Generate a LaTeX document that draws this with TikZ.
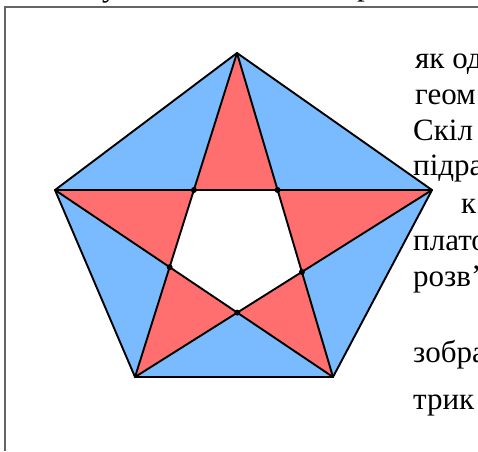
\documentclass[tikz,border=0pt]{standalone}
\usepackage{fontspec}
\setmainfont{Liberation Serif}
\definecolor{pblue}{RGB}{122,187,255}
\definecolor{pred}{RGB}{255,111,111}
\definecolor{framegray}{RGB}{100,100,100}
\begin{document}
\begin{tikzpicture}[x=1pt,y=-1pt,
  edge/.style={line width=1.9pt, line join=round, line cap=round},
  dot/.style={fill=black},
  txt/.style={anchor=base west, inner sep=0pt, font=\fontsize{31}{36}\selectfont},
  frameline/.style={draw=framegray, line width=1.4pt}]
\clip (0,0) rectangle (478,451);
\fill[white] (0,0) rectangle (478,451);
% frame
\coordinate (F1) at (5,451);
\coordinate (F2) at (5,7);
\coordinate (F3) at (478,7);
\draw[frameline] (F1) -- (F2) -- (F3);
% text cut off above the frame
\node[txt] (u) at (102,-4) {у};
\node[txt] (r) at (357,-5) {р};
% pentagon vertices
\coordinate (T) at (237,53);
\coordinate (L) at (55,190);
\coordinate (R) at (432,190);
\coordinate (BL) at (135,377);
\coordinate (BR) at (333,377);
% inner points
\coordinate (P1) at (intersection of T--BL and L--R);
\coordinate (P2) at (intersection of T--BR and L--R);
\coordinate (P3) at (intersection of T--BL and L--BR);
\coordinate (P4) at (intersection of T--BR and R--BL);
\coordinate (P5) at (intersection of L--BR and R--BL);
% fills
\fill[pblue] (T)--(R)--(BR)--(BL)--(L)--cycle;
\fill[pred] (T)--(P1)--(P2)--cycle;
\fill[pred] (L)--(P1)--(P3)--cycle;
\fill[pred] (R)--(P2)--(P4)--cycle;
\fill[pred] (BL)--(P3)--(P5)--cycle;
\fill[pred] (BR)--(P4)--(P5)--cycle;
\fill[white] (P1)--(P2)--(P4)--(P5)--(P3)--cycle;
% lines
\draw[edge] (T)--(R)--(BR)--(BL)--(L)--cycle;
\draw[edge] (T)--(BL);
\draw[edge] (T)--(BR);
\draw[edge] (L)--(R);
\draw[edge] (L)--(BR);
\draw[edge] (R)--(BL);
\foreach \p in {P1,P2,P3,P4,P5} \fill[dot] (\p) circle (3pt);
% text on the right
\node[txt] (t1) at (415,68) {як од};
\node[txt] (t2) at (415,104) {геом};
\node[txt] (t3) at (413,140) {Скіл};
\node[txt] (t4) at (413,175) {підра};
\node[txt] (t5) at (461,213) {к};
\node[txt] (t6) at (413,250) {плато};
\node[txt] (t7) at (413,286) {розв’};
\node[txt] (t8) at (413,362) {зобра};
\node[txt] (t9) at (413,409) {трик};
\end{tikzpicture}
\end{document}
